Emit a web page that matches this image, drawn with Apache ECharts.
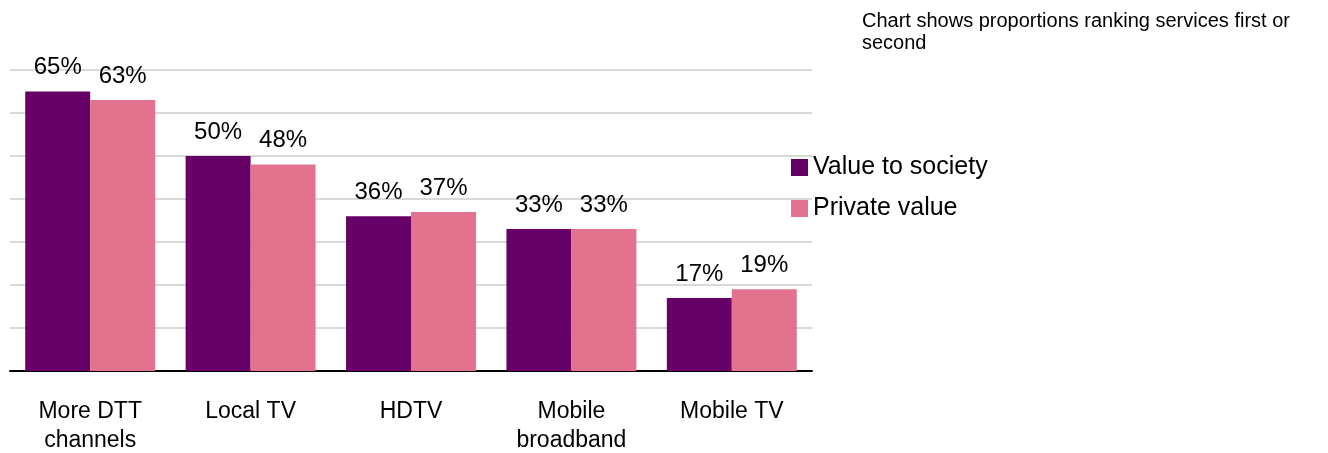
<!DOCTYPE html>
<html>
<head>
<meta charset="utf-8">
<script src="https://cdn.jsdelivr.net/npm/echarts@6/dist/echarts.min.js"></script>
<style>
  html, body { margin: 0; padding: 0; background: #fff; }
  #main { width: 1328px; height: 453px; }
</style>
</head>
<body>
<div id="main"></div>
<script>
var categories = ['More DTT\nchannels', 'Local TV', 'HDTV', 'Mobile\nbroadband', 'Mobile TV'];
var societyValues = [65, 50, 36, 33, 17];
var privateValues = [63, 48, 37, 33, 19];
var seriesNames = ['Value to society', 'Private value'];
var note = 'Chart shows proportions ranking services first or\nsecond';

var font = 'Liberation Sans, Arial, sans-serif';

var myChart = echarts.init(document.getElementById('main'));

var labelOpt = {
    show: true,
    position: 'top',
    distance: 12,
    fontSize: 24,
    fontFamily: font,
    color: '#000',
    formatter: '{c}%'
};

var option = {
    backgroundColor: '#fff',
    animation: false,
    title: {
        text: note,
        left: 857,
        top: 5,
        textStyle: {
            fontSize: 20,
            fontWeight: 'normal',
            fontFamily: font,
            color: '#000',
            lineHeight: 22
        }
    },
    legend: {
        orient: 'vertical',
        left: 786,
        top: 150,
        itemWidth: 17,
        itemHeight: 17,
        itemGap: 16,
        icon: 'rect',
        textStyle: {
            fontSize: 25,
            fontFamily: font,
            color: '#000'
        },
        data: seriesNames
    },
    grid: {
        left: 10,
        right: 516,
        top: 70,
        bottom: 82,
        outerBoundsMode: 'none'
    },
    xAxis: {
        type: 'category',
        data: categories,
        axisLine: { lineStyle: { color: '#000', width: 2 } },
        axisTick: { show: false },
        axisLabel: {
            margin: 26,
            fontSize: 23,
            lineHeight: 29,
            fontFamily: font,
            color: '#000'
        }
    },
    yAxis: {
        type: 'value',
        min: 0,
        max: 70,
        interval: 10,
        axisLabel: { show: false },
        axisLine: { show: false },
        axisTick: { show: false },
        splitLine: { lineStyle: { color: '#d9d9d9', width: 2 } }
    },
    series: [{
        name: seriesNames[0],
        type: 'bar',
        data: societyValues,
        barGap: 0,
        barCategoryGap: '19%',
        itemStyle: { color: '#660066' },
        label: labelOpt
    }, {
        name: seriesNames[1],
        type: 'bar',
        data: privateValues,
        barGap: 0,
        barCategoryGap: '19%',
        itemStyle: { color: '#e2728e' },
        label: labelOpt
    }]
};

myChart.setOption(option);
</script>
</body>
</html>
